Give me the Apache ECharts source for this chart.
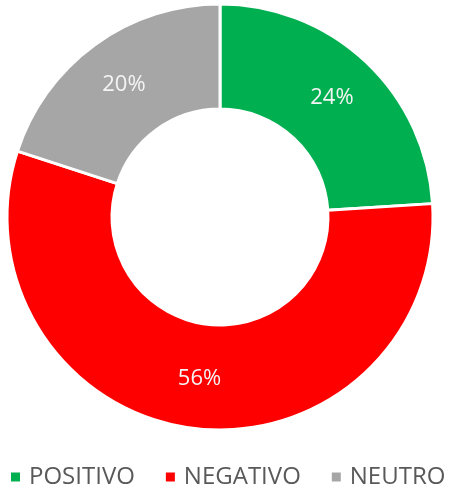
<!DOCTYPE html>
<html>
<head>
<meta charset="utf-8">
<script src="https://cdn.jsdelivr.net/npm/echarts@6/dist/echarts.min.js"></script>
<style>
  html, body { margin: 0; padding: 0; background: #fff; }
  #chart { width: 450px; height: 489px; }
</style>
</head>
<body>
<div id="chart"></div>
<script>
// categorias y porcentajes
const categories = ['POSITIVO', 'NEGATIVO', 'NEUTRO']
const values = [24, 56, 20]
const colors = ['#00B050', '#FF0000', '#A6A6A6']

const chart = echarts.init(document.getElementById('chart'))

const option = {
  animation: false,
  color: colors,
  legend: {
    data: categories,
    left: 4,
    top: 460,
    width: 520,
    padding: 5,
    icon: 'rect',
    itemWidth: 11,
    itemHeight: 11,
    itemGap: 29,
    textStyle: {
      color: '#595959',
      fontFamily: 'Open Sans',
      fontSize: 24,
      lineHeight: 24,
      padding: [0, 0, 0, 3]
    }
  },
  series: [
    {
      type: 'pie',
      center: [220, 217],
      radius: [108, 213],
      startAngle: 90,
      clockwise: true,
      avoidLabelOverlap: false,
      itemStyle: {
        borderColor: '#fff',
        borderWidth: 3
      },
      label: {
        show: true,
        position: 'inside',
        formatter: '{c}%',
        color: '#f4f4f4',
        fontFamily: 'Open Sans',
        fontSize: 22
      },
      labelLine: { show: false },
      emphasis: { disabled: true },
      data: categories.map((name, i) => ({ name: name, value: values[i] }))
    }
  ]
}

chart.setOption(option)
</script>
</body>
</html>
